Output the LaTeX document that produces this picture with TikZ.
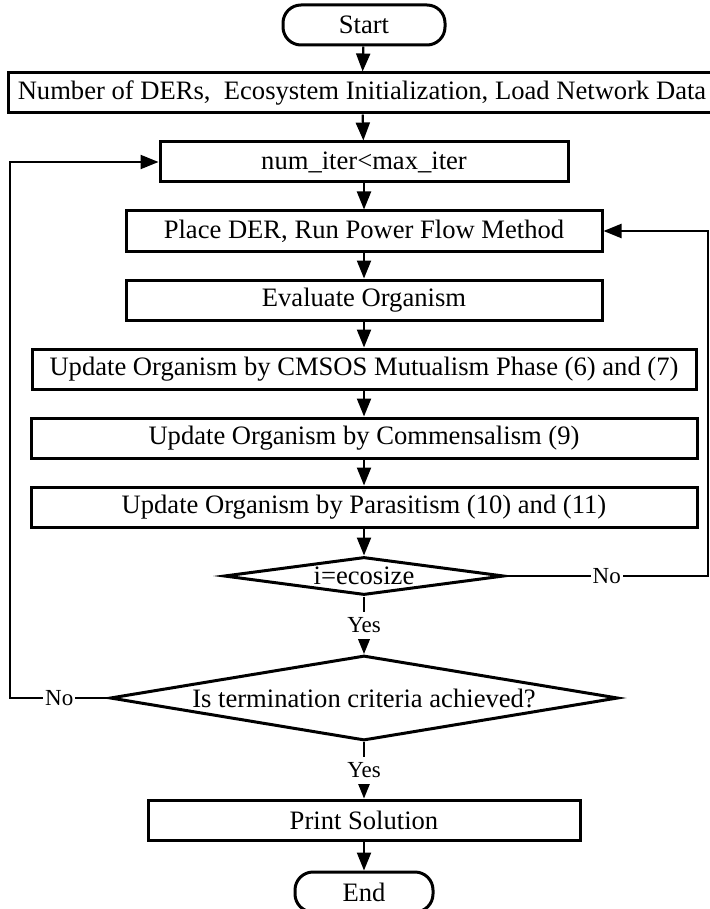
\documentclass[tikz,border=0pt]{standalone}
\usepackage{fontspec}
\setmainfont{Liberation Serif}
\usetikzlibrary{arrows.meta,shapes.geometric}
\tikzset{
  block/.style={draw, line width=1.5pt, rectangle, minimum height=20pt, inner sep=0pt, font=\fontsize{13.3}{16}\selectfont},
  capsule/.style={draw, line width=1.5pt, rectangle, rounded corners=9pt, minimum height=20pt, inner sep=0pt, font=\fontsize{13.3}{16}\selectfont},
  decision/.style={draw, line width=1.5pt, diamond, aspect=6, inner sep=0pt, font=\fontsize{13.3}{16}\selectfont},
  flow/.style={line width=1.1pt, -{Triangle[length=9pt,width=7pt]}},
  lbl/.style={fill=white, inner xsep=1pt, inner ysep=3pt, font=\fontsize{11.5}{13}\selectfont}
}
\begin{document}
\begin{tikzpicture}[x=0.5pt, y=-0.5pt]
  \useasboundingbox (0,0) rectangle (710,909);
  % Main column
  \node[capsule, minimum width=81pt] (start) at (364,25) {Start};
  \node[block, minimum width=354pt] (init) at (362,93) {Number of DERs,~ Ecosystem Initialization, Load Network Data};
  \node[block, minimum width=204pt] (iter) at (364,162) {num\_iter<max\_iter};
  \node[block, minimum width=238pt] (place) at (364,231) {Place DER, Run Power Flow Method};
  \node[block, minimum width=238pt] (eval) at (364,300) {Evaluate Organism};
  \node[block, minimum width=332pt] (upd1) at (364,369) {Update Organism by CMSOS Mutualism Phase (6) and (7)};
  \node[block, minimum width=333pt] (upd2) at (364,438) {Update Organism by Commensalism (9)};
  \node[block, minimum width=333pt] (upd3) at (364,507) {Update Organism by Parasitism (10) and (11)};
  \node[decision, minimum width=140pt, minimum height=19pt] (chk) at (364,576) {i=ecosize};
  \node[decision, minimum width=254pt, minimum height=42.5pt] (crit) at (364,698) {Is termination criteria achieved?};
  \node[block, minimum width=216pt] (print) at (364,820) {Print Solution};
  \node[capsule, minimum width=69pt] (end) at (364,892) {End};
  % Straight arrows
  \foreach \a/\b in {start/init, init/iter, iter/place, place/eval, eval/upd1, upd1/upd2, upd2/upd3, upd3/chk, print/end}
    \draw[flow] (\a) -- (\b);
  \draw[flow] (chk) -- node[lbl] {Yes} (crit);
  \draw[flow] (crit) -- node[lbl] {Yes} (print);
  % Loops back
  \coordinate (rgt) at (708,231);
  \coordinate (lft) at (10,162);
  \draw[flow] (chk.east) -- node[lbl] {No} (chk.east -| rgt) -- (rgt) -- (place.east);
  \draw[flow] (crit.west) -- node[lbl] {No} (crit.west -| lft) -- (lft) -- (iter.west);
\end{tikzpicture}
\end{document}
